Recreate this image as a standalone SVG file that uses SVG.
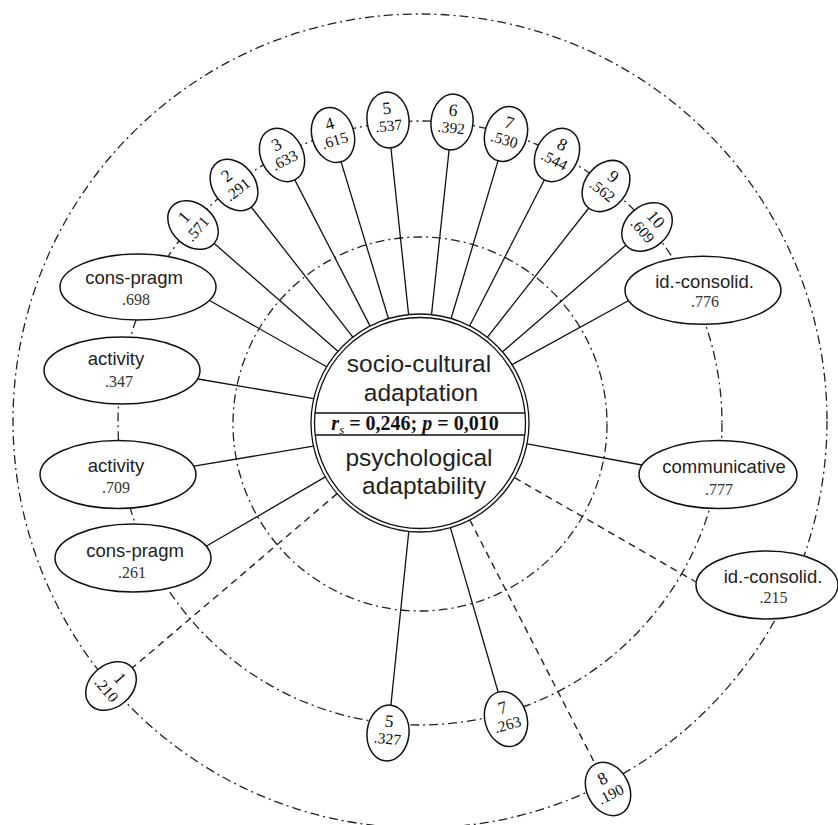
<svg xmlns="http://www.w3.org/2000/svg" width="838" height="825" viewBox="0 0 838 825">
<style>
.dd{fill:none;stroke:#222;stroke-width:1.3;stroke-dasharray:9 4 2 4}
.ds{fill:none;stroke:#222;stroke-width:1.4;stroke-dasharray:7 5}
.ln{stroke:#111;stroke-width:1.3;fill:none}
.el{fill:#fff;stroke:#111;stroke-width:1.5}
.lab{font-family:"Liberation Sans",Arial,sans-serif;font-size:18.5px;fill:#222;text-anchor:middle}
.val{font-family:"Liberation Serif","Times New Roman",serif;font-size:16px;fill:#333;text-anchor:middle}
.sn{font-family:"Liberation Serif","Times New Roman",serif;font-size:17.5px;fill:#111;text-anchor:middle}
.sv{font-family:"Liberation Serif","Times New Roman",serif;font-size:15.5px;fill:#111;text-anchor:middle}
.ctr{font-family:"Liberation Sans",Arial,sans-serif;font-size:24.5px;fill:#222;text-anchor:middle}
.stat{font-family:"Liberation Serif","Times New Roman",serif;font-size:20px;font-weight:bold;fill:#111;text-anchor:middle}
</style>
<rect width="838" height="825" fill="#fff"/>
<g id="rings">
<circle class="dd" cx="420" cy="421" r="407"/>
<circle class="dd" cx="420" cy="423" r="302"/>
<circle class="dd" cx="420" cy="424" r="187"/>
</g>
<g id="connectors">
<line class="ln" x1="337.9" y1="351.3" x2="212.6" y2="242.1"/>
<line class="ln" x1="352.9" y1="337.1" x2="250.0" y2="205.5"/>
<line class="ln" x1="370.1" y1="326.1" x2="293.9" y2="178.1"/>
<line class="ln" x1="388.5" y1="318.7" x2="340.5" y2="159.9"/>
<line class="ln" x1="408.6" y1="314.6" x2="390.7" y2="145.9"/>
<line class="ln" x1="431.5" y1="314.6" x2="449.3" y2="147.9"/>
<line class="ln" x1="451.1" y1="318.5" x2="498.6" y2="158.9"/>
<line class="ln" x1="469.6" y1="326.0" x2="545.2" y2="178.2"/>
<line class="ln" x1="487.3" y1="337.3" x2="590.0" y2="206.5"/>
<line class="ln" x1="502.5" y1="351.8" x2="627.3" y2="244.0"/>
<line class="ln" x1="326.6" y1="366.8" x2="207.4" y2="299.2"/>
<line class="ln" x1="313.8" y1="398.6" x2="195" y2="378.5"/>
<line class="ln" x1="313.4" y1="446.1" x2="191" y2="466.7"/>
<line class="ln" x1="325.3" y1="476.9" x2="204" y2="547.5"/>
<line class="ln" x1="512.1" y1="364.6" x2="630.2" y2="299.8"/>
<line class="ln" x1="527.1" y1="443.9" x2="644.7" y2="465.5"/>
<line class="ln" x1="408.8" y1="531.4" x2="390.7" y2="707.1"/>
<line class="ln" x1="450.4" y1="527.6" x2="498.7" y2="694.0"/>
<line class="ds" x1="337.1" y1="493.6" x2="130.8" y2="669.2"/>
<line class="ds" x1="469.8" y1="519.9" x2="596.1" y2="765.9"/>
<line class="ds" x1="514.5" y1="477.6" x2="697" y2="582.5"/>
</g>
<g id="center">
<circle cx="420" cy="423" r="109" fill="#fff" stroke="#111" stroke-width="1.3"/>
<circle cx="420" cy="423" r="105.5" fill="none" stroke="#111" stroke-width="1.3"/>
<line x1="315" y1="413" x2="525" y2="413" stroke="#111" stroke-width="1.5"/>
<line x1="315.2" y1="435" x2="524.8" y2="435" stroke="#111" stroke-width="1.5"/>
<text class="ctr" x="419" y="372">socio-cultural</text>
<text class="ctr" x="421" y="401">adaptation</text>
<text class="stat" x="415" y="430"><tspan font-style="italic">r</tspan><tspan font-style="italic" font-weight="normal" font-size="13" dy="4">s</tspan><tspan dy="-4"> = 0,246; </tspan><tspan font-style="italic">p</tspan> = 0,010</text>
<text class="ctr" x="419" y="466">psychological</text>
<text class="ctr" x="424" y="494">adaptability</text>
</g>
<g id="t1" transform="translate(193 225) rotate(-48.9)"><ellipse class="el" rx="21" ry="28"/><text class="sn" y="-6">1</text><text class="sv" y="11">.571</text></g>
<g id="t2" transform="translate(234 185) rotate(-38)"><ellipse class="el" rx="21" ry="28"/><text class="sn" y="-6">2</text><text class="sv" y="11">.291</text></g>
<g id="t3" transform="translate(282 155) rotate(-27.2)"><ellipse class="el" rx="21" ry="28"/><text class="sn" y="-6">3</text><text class="sv" y="11">.633</text></g>
<g id="t4" transform="translate(333 135) rotate(-16.8)"><ellipse class="el" rx="21" ry="28"/><text class="sn" y="-6">4</text><text class="sv" y="11">.615</text></g>
<g id="t5" transform="translate(388 120) rotate(-6)"><ellipse class="el" rx="21" ry="28"/><text class="sn" y="-6">5</text><text class="sv" y="11">.537</text></g>
<g id="t6" transform="translate(452 122) rotate(6.1)"><ellipse class="el" rx="21" ry="28"/><text class="sn" y="-6">6</text><text class="sv" y="11">.392</text></g>
<g id="t7" transform="translate(506 134) rotate(16.6)"><ellipse class="el" rx="21" ry="28"/><text class="sn" y="-6">7</text><text class="sv" y="11">.530</text></g>
<g id="t8" transform="translate(557 155) rotate(27.1)"><ellipse class="el" rx="21" ry="28"/><text class="sn" y="-6">8</text><text class="sv" y="11">.544</text></g>
<g id="t9" transform="translate(606 186) rotate(38.1)"><ellipse class="el" rx="21" ry="28"/><text class="sn" y="-6">9</text><text class="sv" y="11">.562</text></g>
<g id="t10" transform="translate(647 227) rotate(49.2)"><ellipse class="el" rx="21" ry="28"/><text class="sn" y="-6">10</text><text class="sv" y="11">.609</text></g>
<g id="b1" transform="translate(111 686) rotate(49.6)"><ellipse class="el" rx="21" ry="28"/><text class="sn" y="-6">1</text><text class="sv" y="11">.210</text></g>
<g id="b5" transform="translate(388 733) rotate(5.9)"><ellipse class="el" rx="21" ry="28"/><text class="sn" y="-6">5</text><text class="sv" y="11">.327</text></g>
<g id="b7" transform="translate(506 719) rotate(-16.2)"><ellipse class="el" rx="21" ry="28"/><text class="sn" y="-6">7</text><text class="sv" y="11">.263</text></g>
<g id="b8" transform="translate(608 789) rotate(-27.2)"><ellipse class="el" rx="21" ry="28"/><text class="sn" y="-6">8</text><text class="sv" y="11">.190</text></g>
<g id="l1"><ellipse class="el" cx="138" cy="287" rx="78" ry="33"/><text class="lab" x="134" y="284">cons-pragm</text><text class="val" x="136" y="305">.698</text></g>
<g id="l2"><ellipse class="el" cx="122" cy="370.5" rx="78" ry="33.5"/><text class="lab" x="116" y="365">activity</text><text class="val" x="119" y="387">.347</text></g>
<g id="l3"><ellipse class="el" cx="118" cy="474.5" rx="78" ry="34"/><text class="lab" x="116" y="471.5">activity</text><text class="val" x="116" y="493">.709</text></g>
<g id="l4"><ellipse class="el" cx="133" cy="558" rx="78" ry="34"/><text class="lab" x="135" y="557">cons-pragm</text><text class="val" x="132" y="578">.261</text></g>
<g id="r1"><ellipse class="el" cx="703" cy="290.3" rx="78" ry="34"/><text class="lab" x="704.5" y="288">id.-consolid.</text><text class="val" x="705" y="307">.776</text></g>
<g id="r2"><ellipse class="el" cx="718" cy="474.5" rx="79" ry="34"/><text class="lab" x="724" y="473">communicative</text><text class="val" x="719" y="495">.777</text></g>
<g id="r3"><ellipse class="el" cx="767" cy="585" rx="71" ry="34"/><text class="lab" x="773" y="583">id.-consolid.</text><text class="val" x="773.5" y="603">.215</text></g>
</svg>
